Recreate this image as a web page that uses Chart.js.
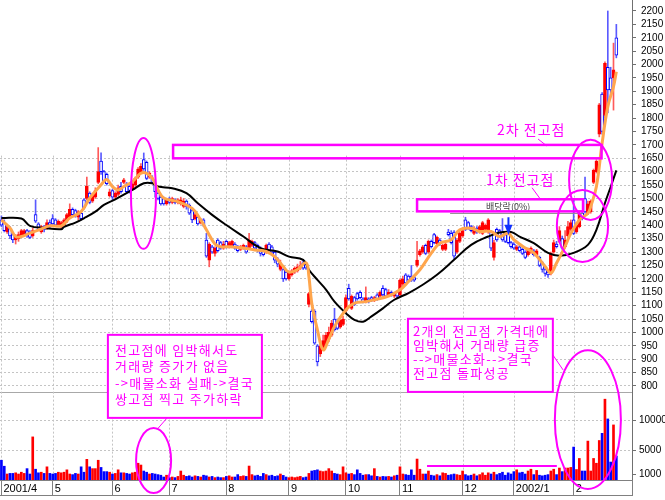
<!DOCTYPE html>
<html>
<head>
<meta charset="utf-8">
<script src="https://cdn.jsdelivr.net/npm/chart.js@4/dist/chart.umd.min.js"></script>
<style>
  html, body { margin: 0; padding: 0; background: #fff; }
  #chart { display: block; }
</style>
</head>
<body>
<canvas id="chart" width="665" height="500"></canvas>
<script>
// daily candles, 2001/4 .. 2002/2 (one row per month)
const opens = [
  1420,1410,1375,1390,1365,1345,1350,1360,1365,1380,1375,1360,1440,1405,1375,1395,1390,1410,
  1425,1420,1400,1395,1400,1415,1430,1460,1455,1430,1445,1495,1500,1520,1490,1505,1560,1640,1600,1590,1510,
  1530,1505,1515,1545,1560,1555,1545,1535,1550,1580,1600,1645,1635,1580,1575,1555,1520,1505,1500,1480,
  1500,1485,1495,1485,1480,1470,1490,1475,1455,1425,1430,1410,1420,1345,1270,1320,1295,1345,1335,1315,
  1340,1320,1325,1330,1320,1310,1315,1320,1315,1325,1335,1325,1315,1305,1300,1330,1320,1300,1275,1235,1235,1225,
  1200,1215,1225,1230,1240,1260,1255,1105,1080,1080,950,920,940,955,975,990,1050,1040,1020,1030,
  1080,1165,1090,1130,1145,1150,1125,1115,1125,1130,1120,1140,1135,1165,1160,1140,1150,1135,1150,
  1140,1180,1215,1210,1210,1205,1250,1290,1300,1325,1300,1340,1365,1330,1345,1310,1310,1375,1370,1375,1300,1340,
  1360,1420,1410,1395,1370,1390,1375,1370,1385,1375,1375,1280,1385,1380,1375,1365,1370,1335,
  1330,1310,1320,1310,1300,1290,1300,1305,1290,1280,1260,1235,1225,1220,1300,1330,1340,1350,1320,1360,1385,
  1420,1375,1395,1445,1500,1445,1450,1560,1600,1740,1890,1810,1990,1950,1950,2100
];
const highs = [
  1435,1420,1400,1395,1370,1365,1375,1385,1385,1385,1380,1390,1495,1410,1400,1400,1420,1420,
  1440,1425,1420,1415,1425,1445,1480,1465,1460,1455,1450,1500,1580,1525,1520,1540,1690,1670,1605,1595,1535,
  1535,1525,1550,1560,1575,1560,1550,1560,1580,1615,1630,1670,1640,1600,1585,1560,1525,1510,1505,1500,
  1505,1505,1500,1500,1505,1500,1495,1480,1460,1445,1435,1425,1425,1370,1335,1325,1320,1350,1340,1340,
  1345,1340,1345,1335,1325,1325,1330,1325,1370,1345,1340,1330,1320,1310,1330,1335,1325,1305,1280,1270,1240,1230,
  1230,1235,1245,1255,1265,1270,1260,1150,1085,1085,955,955,990,1000,1020,1045,1090,1050,1060,1060,
  1140,1180,1140,1135,1150,1155,1130,1170,1130,1135,1135,1145,1155,1175,1165,1160,1155,1150,1155,
  1200,1210,1220,1215,1250,1210,1340,1310,1325,1330,1345,1345,1370,1360,1350,1330,1335,1385,1380,1380,1350,1375,
  1390,1430,1415,1400,1395,1395,1400,1415,1405,1425,1380,1345,1390,1385,1425,1370,1375,1340,
  1335,1325,1325,1315,1305,1315,1320,1310,1310,1285,1265,1240,1230,1300,1345,1340,1395,1360,1380,1415,1420,
  1500,1410,1450,1450,1580,1490,1495,1610,1645,1855,1895,2010,2200,1990,2080,2150
];
const lows = [
  1395,1375,1370,1350,1335,1330,1340,1355,1360,1355,1350,1355,1410,1380,1370,1375,1385,1390,
  1395,1395,1395,1385,1395,1410,1425,1435,1430,1420,1420,1460,1495,1480,1485,1500,1555,1590,1560,1550,1505,
  1495,1500,1510,1520,1555,1520,1520,1530,1545,1575,1595,1605,1570,1575,1555,1505,1495,1475,1475,1475,
  1480,1480,1480,1480,1475,1465,1460,1440,1410,1420,1400,1405,1395,1280,1245,1295,1285,1300,1310,1310,
  1315,1315,1320,1310,1300,1305,1310,1295,1310,1320,1310,1300,1285,1285,1295,1300,1295,1260,1245,1230,1190,1195,
  1195,1210,1220,1225,1235,1235,1235,1095,1035,955,875,910,935,950,965,985,1005,1010,1015,1025,
  1075,1120,1085,1100,1120,1125,1110,1110,1110,1115,1115,1120,1130,1135,1130,1135,1135,1130,1130,
  1135,1175,1180,1190,1190,1190,1245,1285,1295,1290,1295,1315,1330,1325,1325,1305,1305,1360,1330,1275,1295,1335,
  1355,1380,1385,1375,1365,1370,1370,1365,1380,1370,1305,1270,1340,1355,1340,1335,1330,1315,
  1310,1305,1300,1290,1275,1285,1295,1285,1285,1245,1225,1210,1205,1215,1295,1315,1335,1310,1315,1355,1380,
  1365,1370,1390,1420,1445,1440,1445,1555,1595,1730,1740,1800,1820,1880,1830,2025
];
const closes = [
  1400,1380,1395,1360,1345,1360,1365,1380,1380,1360,1355,1380,1415,1385,1395,1385,1410,1400,
  1405,1400,1415,1410,1420,1440,1460,1440,1435,1450,1425,1465,1545,1485,1515,1530,1600,1600,1565,1555,1525,
  1505,1520,1540,1525,1570,1525,1530,1555,1575,1610,1620,1610,1575,1595,1560,1525,1500,1480,1480,1495,
  1485,1500,1485,1495,1495,1490,1470,1445,1420,1440,1405,1420,1400,1285,1330,1300,1315,1305,1315,1330,
  1320,1335,1340,1315,1305,1320,1325,1300,1345,1340,1315,1305,1295,1290,1325,1305,1300,1270,1255,1260,1200,1200,
  1225,1230,1240,1245,1250,1240,1240,1145,1040,960,890,950,970,990,1000,1035,1010,1015,1045,1050,
  1130,1125,1135,1105,1125,1130,1115,1130,1115,1120,1130,1125,1150,1140,1135,1150,1140,1145,1135,
  1195,1200,1185,1195,1195,1195,1270,1305,1320,1295,1340,1320,1335,1355,1330,1325,1330,1365,1335,1285,1345,1370,
  1380,1385,1390,1380,1390,1375,1395,1410,1400,1420,1315,1335,1345,1360,1345,1340,1335,1320,
  1315,1320,1305,1295,1280,1310,1315,1290,1305,1250,1235,1220,1215,1295,1335,1320,1380,1315,1345,1395,1410,
  1370,1400,1445,1425,1450,1480,1490,1605,1640,1850,1750,2005,1905,1905,1980,2035
];
const volumes = [
  3300,2300,1000,1100,1100,1200,1000,1300,1100,1900,1000,7200,1800,1200,1300,1100,2200,1100,
  1000,1100,1300,1200,1300,1700,1000,900,1100,1000,2200,1300,3450,2200,1900,1900,3300,2100,1400,1400,1300,
  1000,1100,1700,1200,1200,1100,1000,1200,1300,2800,2500,1500,1300,1000,1100,1000,900,800,500,800,
  400,500,400,600,1500,800,600,700,500,700,600,500,800,700,500,600,400,500,400,400,
  600,700,500,500,900,600,700,600,2330,900,700,800,600,1100,900,700,800,600,700,1000,770,500,
  400,500,400,500,600,400,500,1100,1500,1600,1700,1500,1400,1500,1900,1500,1100,1000,900,2200,
  1200,1000,1100,900,1700,1100,800,900,900,700,1900,600,500,600,550,600,500,700,800,
  2200,1000,900,800,1700,800,3500,1800,1000,1000,1500,800,700,900,700,1200,1100,800,900,1000,900,800,
  1500,900,700,800,1000,700,900,1200,800,1200,1000,1300,900,1100,1300,800,1200,1000,
  1400,1700,1200,1300,1000,1500,1800,900,1600,800,700,800,900,1500,1800,900,2000,1400,2000,2000,2100,
  5500,1750,3600,1500,1500,6500,1500,3600,2800,6600,7800,13500,10200,3000,9200,4000
];

// moving averages at these trading days
const maShortDays = [0,3,5,7,10,14,17,21,24,28,31,35,37,39,41,43,46,49,51,53,55,57,62,67,70,72,75,77,80,85,89,93,96,99,101,104,107,108,109,111,113,115,117,121,124,128,131,136,140,143,147,151,154,158,161,165,168,172,175,178,180,184,187,191,193,195,198,200,203,206,207,209,211,213,215,216];
const maShortValues = [1420,1390,1358,1358,1371,1386,1398,1398,1427,1451,1501,1551,1571,1544,1532,1545,1563,1594,1594,1576,1532,1502,1488,1463,1420,1383,1330,1320,1320,1315,1308,1302,1283,1246,1225,1235,1260,1209,1110,1010,935,975,1022,1084,1109,1115,1122,1136,1159,1190,1234,1296,1333,1346,1383,1389,1377,1377,1358,1370,1346,1315,1297,1246,1222,1259,1321,1370,1420,1445,1470,1545,1706,1843,1918,1973];
const maLongDays = [0,7,10,15,21,22,26,29,33,36,40,46,50,53,55,60,65,69,74,79,85,91,97,101,106,108,111,114,117,121,124,127,130,134,138,143,148,153,159,165,171,175,179,182,187,192,196,201,206,209,212,214,216];
const maLongValues = [1427,1425,1398,1390,1385,1394,1410,1426,1451,1476,1497,1532,1557,1557,1545,1538,1520,1482,1439,1401,1358,1315,1302,1283,1271,1234,1196,1160,1115,1072,1047,1040,1060,1090,1122,1147,1178,1215,1271,1327,1358,1373,1375,1358,1333,1297,1286,1297,1327,1383,1483,1543,1605];

const monthStarts = [0, 18, 39, 59, 79, 101, 121, 140, 162, 180, 201];
const monthLabels = ['2001/4', '5', '6', '7', '8', '9', '10', '11', '12', '2002/1', '2'];
const priceTicks = [800,850,900,950,1000,1050,1100,1150,1200,1250,1300,1350,1400,1450,1500,1550,1600,1650,1700,1750,1800,1850,1900,1950,2000,2050,2100,2150,2200];
const volumeTicks = [1000, 5000, 10000];
const slotCount = 222;

const RED = '#ff0000', BLUE = '#0000ff', MAGENTA = '#ff00ff', GRID = '#c4c4c4';
const VOL_TOP = 14700;
const days = Array.from({ length: slotCount }, (_, i) => i);
const rising = i => closes[i] >= opens[i];
const sparse = (at, vals) => {
  const out = new Array(slotCount).fill(null);
  at.forEach((d, k) => { out[d] = vals[k]; });
  return out;
};
const isMonthStart = i => monthStarts.includes(i);
const noPad = s => { s.paddingTop = 0; s.paddingBottom = 0; s.paddingLeft = 0; s.paddingRight = 0; };

// month lines only run through the lower, populated part of the price pane
const monthLines = {
  id: 'monthLines',
  beforeDatasetsDraw(chart) {
    const { ctx, chartArea, scales: { x, y } } = chart;
    ctx.save();
    ctx.strokeStyle = GRID;
    ctx.lineWidth = 1;
    ctx.setLineDash([2, 2]);
    ctx.beginPath();
    monthStarts.forEach(d => {
      const px = Math.round(x.getPixelForValue(d)) + 0.5;
      ctx.moveTo(px, y.getPixelForValue(1660));
      ctx.lineTo(px, chartArea.bottom);
    });
    ctx.stroke();
    ctx.restore();
  }
};

const notes = {
  id: 'notes',
  afterDraw(chart) {
    const { ctx, scales: { x, y, yVol } } = chart;
    const X = v => x.getPixelForValue(v);
    const P = v => y.getPixelForValue(v);
    const V = v => yVol.getPixelForValue(v);
    ctx.save();

    // frame of the date row
    ctx.strokeStyle = '#808080';
    ctx.lineWidth = 1;
    ctx.beginPath();
    ctx.moveTo(x.left, x.top + 15.5); ctx.lineTo(x.right, x.top + 15.5);
    ctx.moveTo(x.right + 0.5, x.top); ctx.lineTo(x.right + 0.5, x.top + 16);
    ctx.stroke();

    // ex-dividend marker
    ctx.strokeStyle = '#909090';
    ctx.beginPath();
    ctx.moveTo(X(157.6), P(1446) + 0.5); ctx.lineTo(X(204.3), P(1446) + 0.5);
    ctx.stroke();
    ctx.fillStyle = '#404040';
    ctx.font = '9px "Noto Sans CJK KR"';
    ctx.textAlign = 'center';
    ctx.textBaseline = 'middle';
    ctx.fillText('배당락(0%)', X(178), P(1468));
    ctx.strokeStyle = '#1030ff';
    ctx.fillStyle = '#1030ff';
    ctx.lineWidth = 2;
    ctx.beginPath();
    ctx.moveTo(X(178.1), P(1430)); ctx.lineTo(X(178.1), P(1395));
    ctx.stroke();
    ctx.beginPath();
    ctx.moveTo(X(178.1) - 4, P(1402)); ctx.lineTo(X(178.1) + 4, P(1402)); ctx.lineTo(X(178.1), P(1364));
    ctx.closePath();
    ctx.fill();

    // resistance bands
    ctx.strokeStyle = MAGENTA;
    ctx.lineWidth = 2.5;
    [[60.3, 210.8, 1650, 1700], [146, 204.3, 1452, 1497]].forEach(([a, b, lo, hi]) => {
      ctx.strokeRect(X(a), P(hi), X(b) - X(a), P(lo) - P(hi));
    });

    // ellipses
    ctx.lineWidth = 2;
    const ring = (a, b, t, u) => {
      ctx.beginPath();
      ctx.ellipse((a + b) / 2, (t + u) / 2, Math.abs(b - a) / 2, Math.abs(u - t) / 2, 0, 0, Math.PI * 2);
      ctx.stroke();
    };
    ring(X(45.5), X(54.3), P(1726), P(1312));
    ring(X(199.4), X(214.5), P(1719), P(1420));
    ring(X(195.1), X(213.1), P(1532), P(1263));
    ring(X(194.4), X(217.6), V(21670), V(-1500));
    ring(X(47.3), X(59.6), V(8670), V(-2170));

    // leader lines
    ctx.lineWidth = 1;
    ctx.beginPath();
    [[188.5, 1722, 191.6, 1696], [186.4, 1540, 189.5, 1495], [58.2, 681, 54.6, 637], [193.7, 916, 197.3, 860]]
      .forEach(([a, p, b, q]) => { ctx.moveTo(X(a), P(p)); ctx.lineTo(X(b), P(q)); });
    ctx.stroke();

    // volume level line
    ctx.lineWidth = 2;
    ctx.beginPath();
    ctx.moveTo(X(149.5), V(2330)); ctx.lineTo(X(195.1), V(2330));
    ctx.stroke();

    // text boxes
    ctx.fillStyle = '#fff';
    ctx.lineWidth = 2;
    [[37.4, 91.5, 991, 681], [142.8, 193.7, 1051, 778]].forEach(([a, b, hi, lo]) => {
      ctx.fillRect(X(a), P(hi), X(b) - X(a), P(lo) - P(hi));
      ctx.strokeRect(X(a), P(hi), X(b) - X(a), P(lo) - P(hi));
    });

    ctx.fillStyle = MAGENTA;
    ctx.textAlign = 'left';
    ctx.textBaseline = 'middle';
    ctx.letterSpacing = '1px';
    ctx.font = '14px "Noto Sans CJK KR"';
    ctx.fillText('2차 전고점', X(174.1), P(1756));
    ctx.fillText('1차 전고점', X(170.2), P(1569));

    ctx.letterSpacing = '1.3px';
    ctx.font = '13px "Noto Sans CJK KR"';
    const leftNote = ['전고점에 임박해서도', '거래량 증가가 없음', '->매물소화 실패->결국', '쌍고점 찍고 주가하락'];
    [935, 873, 811, 752].forEach((p, k) => ctx.fillText(leftNote[k], X(39.9), P(p)));
    const rightNote = ['2개의 전고점 가격대에', '임박해서 거래량 급증', '-->매물소화-->결국', '전고점 돌파성공'];
    [1006, 951, 900, 849].forEach((p, k) => ctx.fillText(rightNote[k], X(144.6), P(p)));

    ctx.restore();
  }
};

new Chart(document.getElementById('chart'), {
  data: {
    labels: days,
    datasets: [
      {
        type: 'line', label: 'MA5', data: sparse(maShortDays, maShortValues), yAxisID: 'y',
        borderColor: '#ffa64d', borderWidth: 3, pointRadius: 0, tension: 0.4, spanGaps: true, order: 0
      },
      {
        type: 'line', label: 'MA20', data: sparse(maLongDays, maLongValues), yAxisID: 'y',
        borderColor: '#000000', borderWidth: 2, pointRadius: 0, tension: 0.4, spanGaps: true, order: 0
      },
      {
        type: 'bar', label: 'body', data: opens.map((o, i) => [o, closes[i]]), yAxisID: 'y',
        grouped: false, barThickness: 3, borderWidth: 1, borderSkipped: false,
        backgroundColor: c => rising(c.dataIndex) ? RED : '#ffffff',
        borderColor: c => rising(c.dataIndex) ? RED : BLUE,
        order: 1
      },
      {
        type: 'bar', label: 'wick', data: lows.map((l, i) => [l, highs[i]]), yAxisID: 'y',
        grouped: false, barThickness: 1,
        backgroundColor: c => rising(c.dataIndex) ? '#ff5a5a' : '#5a5aff',
        order: 2
      },
      {
        type: 'bar', label: 'volume', data: volumes, yAxisID: 'yVol',
        grouped: false, barThickness: 2,
        backgroundColor: c => rising(c.dataIndex) ? RED : BLUE,
        order: 3
      }
    ]
  },
  options: {
    responsive: false,
    animation: false,
    layout: { padding: 0 },
    plugins: { legend: { display: false }, tooltip: { enabled: false } },
    scales: {
      x: {
        type: 'category',
        offset: true,
        grid: {
          offset: false,
          drawOnChartArea: false,
          tickColor: c => isMonthStart(c.index) ? '#808080' : 'rgba(0,0,0,0)',
          tickLength: 16,
          tickBorderDash: []
        },
        border: { color: '#808080' },
        ticks: {
          autoSkip: false, maxRotation: 0, align: 'start', labelOffset: 2, padding: -14,
          color: '#000', font: { family: 'Liberation Sans', size: 11 },
          callback: (v, i) => { const k = monthStarts.indexOf(i); return k >= 0 ? monthLabels[k] : ''; }
        },
        afterFit: s => { noPad(s); s.height = 20; }
      },
      y: {
        type: 'linear', position: 'right', stack: 'panes', stackWeight: 392,
        min: 777.6, max: 2241,
        afterBuildTicks: s => { s.ticks = priceTicks.map(v => ({ value: v })); },
        grid: {
          color: c => c.tick && c.tick.value <= 1650 ? GRID : 'rgba(0,0,0,0)',
          tickColor: '#707070', tickLength: 4, tickBorderDash: []
        },
        border: { color: '#707070', dash: [2, 2] },
        ticks: { autoSkip: false, color: '#000', padding: 5, font: { family: 'Liberation Sans', size: 10 }, callback: v => String(v) },
        afterFit: s => { noPad(s); s.width = 33; }
      },
      yVol: {
        type: 'linear', position: 'right', stack: 'panes', stackWeight: 88,
        min: 0, max: VOL_TOP,
        afterBuildTicks: s => { s.ticks = volumeTicks.concat([VOL_TOP]).map(v => ({ value: v })); },
        grid: {
          color: c => {
            const v = c.tick && c.tick.value;
            if (v === VOL_TOP) return '#a8a8a8';
            return v === 1000 ? 'rgba(0,0,0,0)' : GRID;
          },
          tickColor: c => c.tick && c.tick.value === VOL_TOP ? 'rgba(0,0,0,0)' : '#707070',
          tickLength: 4, tickBorderDash: []
        },
        border: { color: '#707070', dash: c => c.tick && c.tick.value === VOL_TOP ? [] : [2, 2] },
        ticks: { autoSkip: false, color: '#000', padding: 3, font: { family: 'Liberation Sans', size: 10 }, callback: v => v === VOL_TOP ? '' : String(v) },
        afterFit: s => { noPad(s); s.width = 33; }
      }
    }
  },
  plugins: [monthLines, notes]
});
</script>
</body>
</html>
